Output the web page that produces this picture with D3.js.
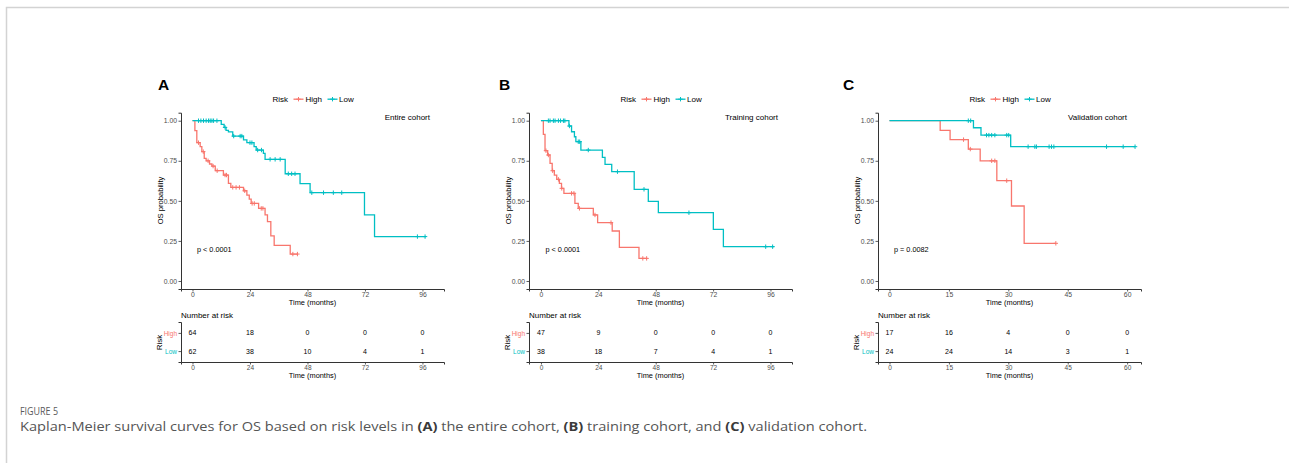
<!DOCTYPE html>
<html>
<head>
<meta charset="utf-8">
<script src="https://cdn.jsdelivr.net/npm/d3@7"></script>
<style>
body { margin: 0; background: #fff; }
svg { font-family: "Liberation Sans", Arial, sans-serif; }
</style>
</head>
<body>
<svg id="fig" width="1289" height="463"></svg>
<script>
// ---- data ----
const riskGroups = ["High", "Low"];
const riskColors = ["#F8766D", "#00BFC4"];

// A: entire cohort  [time, survival] at each drop
const entireHigh = [[0,1],[1,0.938],[1.8,0.863],[3.2,0.838],[3.9,0.807],[4.9,0.765],[5.7,0.75],[7.1,0.73],[8.1,0.717],[9.5,0.688],[12.9,0.661],[15,0.609],[16,0.584],[21.3,0.563],[22.7,0.536],[23.7,0.511],[24.5,0.484],[27.6,0.453],[30.3,0.412],[31.3,0.37],[32.7,0.281],[34.1,0.222],[40.8,0.168]];
const entireHighEnd = 44;
const entireHighCensor = [2.5,4.5,6.5,8.6,10.3,13.6,14.2,16.8,18.2,19.6,21.8,24.9,25.8,28.7,29.4,41.9,43.8];
const entireLow = [[0,1],[12,0.977],[13.2,0.958],[14,0.94],[15,0.93],[16.8,0.904],[21.3,0.88],[22.7,0.863],[25.7,0.838],[26.6,0.817],[29.6,0.796],[30.3,0.759],[38.7,0.669],[44.9,0.607],[49.1,0.551],[71.8,0.412],[76,0.277]];
const entireLowEnd = 97.5;
const entireLowCensor = [2.5,3.5,4.6,5.7,6.7,7.4,8.1,8.8,10.2,13.6,17.2,19.9,20.6,24,24.8,27.2,28.8,32.4,34.5,36.6,40,41.4,42.8,49.8,54.7,58.8,62.3,93.9,97.1];
const entireRiskHigh = [64, 18, 0, 0, 0];
const entireRiskLow = [62, 38, 10, 4, 1];

// B: training cohort
const trainHigh = [[0,1],[1,0.915],[1.7,0.813],[2.8,0.786],[3.8,0.734],[4.7,0.688],[5.6,0.661],[6.6,0.634],[7.7,0.609],[8.6,0.578],[9.6,0.547],[14.2,0.484],[15.6,0.453],[21.9,0.412],[23.7,0.364],[29.8,0.312],[32.8,0.21],[41,0.141]];
const trainHighEnd = 44.5;
const trainHighCensor = [2.1,3.1,4.9,7.3,8.7,12.8,13.8,16.1,22.6,29.3,42.6,44.2];
const trainLow = [[0,1],[11.7,0.967],[12.8,0.931],[14,0.9],[14.6,0.869],[16.7,0.817],[25.7,0.771],[26.8,0.728],[29.6,0.682],[39,0.572],[44.9,0.497],[49.1,0.426],[72.1,0.322],[76.3,0.214]];
const trainLowEnd = 97.5;
const trainLowCensor = [3.1,3.8,5.2,5.9,7.3,8.2,9.4,10,11.9,15.6,16.2,19.8,32,43.1,61.9,94,96.9];
const trainRiskHigh = [47, 9, 0, 0, 0];
const trainRiskLow = [38, 18, 7, 4, 1];

// C: validation cohort
const validHigh = [[0,1],[12.8,0.94],[15.3,0.882],[19.9,0.823],[22.9,0.75],[27.1,0.626],[30.8,0.468],[34,0.235]];
const validHighEnd = 42;
const validHighCensor = [18.7,20.4,25.8,26.6,29.6,42];
const validLow = [[0,1],[21.2,0.956],[23.1,0.91],[30.6,0.838]];
const validLowEnd = 62;
const validLowCensor = [19.9,20.5,24.5,25.1,25.8,26.6,29.6,30.1,35,36.7,37.1,40.3,40.9,41.5,54.8,59,62];
const validRiskHigh = [17, 16, 4, 0, 0];
const validRiskLow = [24, 24, 14, 3, 1];

const monthTicks96 = [0, 24, 48, 72, 96];
const monthTicks60 = [0, 15, 30, 45, 60];
const survTicks = [0, 0.25, 0.5, 0.75, 1];

// ---- layout ----
const panels = [
  { letter: "A", letterX: 158, left: 181, right: 444, xDomain: [-4.8, 105], ticks: monthTicks96,
    label: "Entire cohort", pval: "p < 0.0001",
    curves: [[entireHigh, entireHighEnd, entireHighCensor], [entireLow, entireLowEnd, entireLowCensor]],
    risk: [entireRiskHigh, entireRiskLow] },
  { letter: "B", letterX: 499, left: 529, right: 792, xDomain: [-5, 105], ticks: monthTicks96,
    label: "Training cohort", pval: "p < 0.0001",
    curves: [[trainHigh, trainHighEnd, trainHighCensor], [trainLow, trainLowEnd, trainLowCensor]],
    risk: [trainRiskHigh, trainRiskLow] },
  { letter: "C", letterX: 843, left: 878, right: 1141, xDomain: [-2.9, 63.5], ticks: monthTicks60,
    label: "Validation cohort", pval: "p = 0.0082",
    curves: [[validHigh, validHighEnd, validHighCensor], [validLow, validLowEnd, validLowCensor]],
    risk: [validRiskHigh, validRiskLow] }
];

const axisColor = "#333";
const tickColor = "#4d4d4d";
const svg = d3.select("#fig");

// page frame
svg.append("path")
  .attr("d", "M6.5,463 V7.5 H1289")
  .attr("fill", "none").attr("stroke", "#d3d3d3").attr("stroke-width", 1.5);

const y = d3.scaleLinear().domain([-0.05, 1.05]).range([289, 112.7]);

function survAt(steps, t) {
  let s = 1;
  steps.forEach(d => { if (d[0] <= t) s = d[1]; });
  return s;
}

function plus(g, cx, cy, color) {
  g.append("path")
    .attr("d", `M${cx - 2.2},${cy} H${cx + 2.2} M${cx},${cy - 2.2} V${cy + 2.2}`)
    .attr("stroke", color).attr("stroke-width", 1);
}

function styleAxis(a, size) {
  a.attr("font-family", null);
  a.select(".domain").attr("stroke", axisColor).attr("stroke-width", 1);
  a.selectAll(".tick line").attr("stroke", axisColor).attr("stroke-width", 0.8);
  a.selectAll(".tick text").attr("font-size", size).attr("fill", tickColor);
}

panels.forEach(p => {
  const g = svg.append("g");
  const x = d3.scaleLinear().domain(p.xDomain).range([p.left, p.right]);
  const mid = (p.left + p.right) / 2;

  g.append("text").attr("x", p.letterX).attr("y", 89.5)
    .attr("font-size", 15.5).attr("font-weight", "bold").attr("fill", "#000").text(p.letter);

  // legend
  const lg = g.append("g").attr("transform", `translate(${mid - 40},102)`);
  lg.append("text").attr("x", 0).attr("y", 0).attr("font-size", 8).attr("fill", "#000").text("Risk");
  [[21, 33, 0], [55, 66.5, 1]].forEach(([kx, tx, i]) => {
    lg.append("line").attr("x1", kx).attr("x2", kx + 10).attr("y1", -2.8).attr("y2", -2.8)
      .attr("stroke", riskColors[i]).attr("stroke-width", 1.3);
    plus(lg, kx + 5, -2.8, riskColors[i]);
    lg.append("text").attr("x", tx).attr("y", 0).attr("font-size", 8).attr("fill", "#000").text(riskGroups[i]);
  });

  // axes
  const yAxis = g.append("g").attr("transform", `translate(${p.left},0)`)
    .call(d3.axisLeft(y).tickValues(survTicks).tickFormat(d3.format(".2f")).tickSize(2.5).tickPadding(1.5));
  const xAxis = g.append("g").attr("transform", "translate(0,289)")
    .call(d3.axisBottom(x).tickValues(p.ticks).tickSize(2.5).tickPadding(0.8));
  styleAxis(yAxis, 6.8);
  styleAxis(xAxis, 6.8);

  g.append("text").attr("transform", `translate(${p.left - 18},200.5) rotate(-90)`)
    .attr("text-anchor", "middle").attr("font-size", 7.6).attr("fill", "#000").text("OS probability");
  g.append("text").attr("x", mid).attr("y", 305).attr("text-anchor", "middle")
    .attr("font-size", 7.4).attr("fill", "#000").text("Time (months)");
  g.append("text").attr("x", p.right - 14).attr("y", 120).attr("text-anchor", "end")
    .attr("font-size", 8).attr("fill", "#000").text(p.label);
  g.append("text").attr("x", x(0) + 4.5).attr("y", 252)
    .attr("font-size", 7.3).attr("fill", "#000").text(p.pval);

  // curves
  const line = d3.line().x(d => x(d[0])).y(d => y(d[1])).curve(d3.curveStepAfter);
  p.curves.forEach(([steps, end, censor], i) => {
    const pts = steps.concat([[end, steps[steps.length - 1][1]]]);
    g.append("path").attr("d", line(pts)).attr("fill", "none")
      .attr("stroke", riskColors[i]).attr("stroke-width", 1.3);
    censor.forEach(t => plus(g, x(t), y(survAt(steps, t)), riskColors[i]));
  });

  // number at risk table
  g.append("text").attr("x", p.left).attr("y", 318).attr("font-size", 8).attr("fill", "#000").text("Number at risk");
  const ry = d3.scalePoint().domain(riskGroups).range([322, 362]).padding(0.6);
  const ryAxis = g.append("g").attr("transform", `translate(${p.left},0)`)
    .call(d3.axisLeft(ry).tickSize(2.5).tickPadding(1.5));
  const rxAxis = g.append("g").attr("transform", "translate(0,362)")
    .call(d3.axisBottom(x).tickValues(p.ticks).tickSize(2.5).tickPadding(0.8));
  styleAxis(ryAxis, 6.5);
  styleAxis(rxAxis, 6.5);
  ryAxis.selectAll(".tick text").attr("fill", (d, i) => riskColors[i]);
  g.append("text").attr("transform", `translate(${p.left - 19.5},342.5) rotate(-90)`)
    .attr("text-anchor", "middle").attr("font-size", 8).attr("fill", "#000").text("Risk");
  g.append("text").attr("x", mid).attr("y", 378).attr("text-anchor", "middle")
    .attr("font-size", 7.4).attr("fill", "#000").text("Time (months)");
  p.risk.forEach((row, i) => {
    g.selectAll(null).data(row).enter().append("text")
      .attr("x", (d, j) => x(p.ticks[j])).attr("y", ry(riskGroups[i])).attr("dy", "0.35em")
      .attr("text-anchor", "middle").attr("font-size", 7).attr("fill", "#000").text(d => d);
  });
});

// caption
svg.append("text").attr("x", 20).attr("y", 415).attr("font-size", 11)
  .style("font-family", "'Open Sans', sans-serif").attr("fill", "#5a5a5a")
  .attr("textLength", 38).attr("lengthAdjust", "spacingAndGlyphs").text("FIGURE 5");
const cap = svg.append("text").attr("x", 20).attr("y", 431).attr("font-size", 13)
  .style("font-family", "'Open Sans', sans-serif").attr("fill", "#555")
  .attr("textLength", 847).attr("lengthAdjust", "spacingAndGlyphs");
const capParts = [
  ["Kaplan-Meier survival curves for OS based on risk levels in ", false], ["(A)", true],
  [" the entire cohort, ", false], ["(B)", true], [" training cohort, and ", false],
  ["(C)", true], [" validation cohort.", false]
];
capParts.forEach(([t, b]) => {
  cap.append("tspan").attr("font-weight", b ? "bold" : "normal").attr("fill", b ? "#3a3a3a" : "#555").text(t);
});
</script>
</body>
</html>
